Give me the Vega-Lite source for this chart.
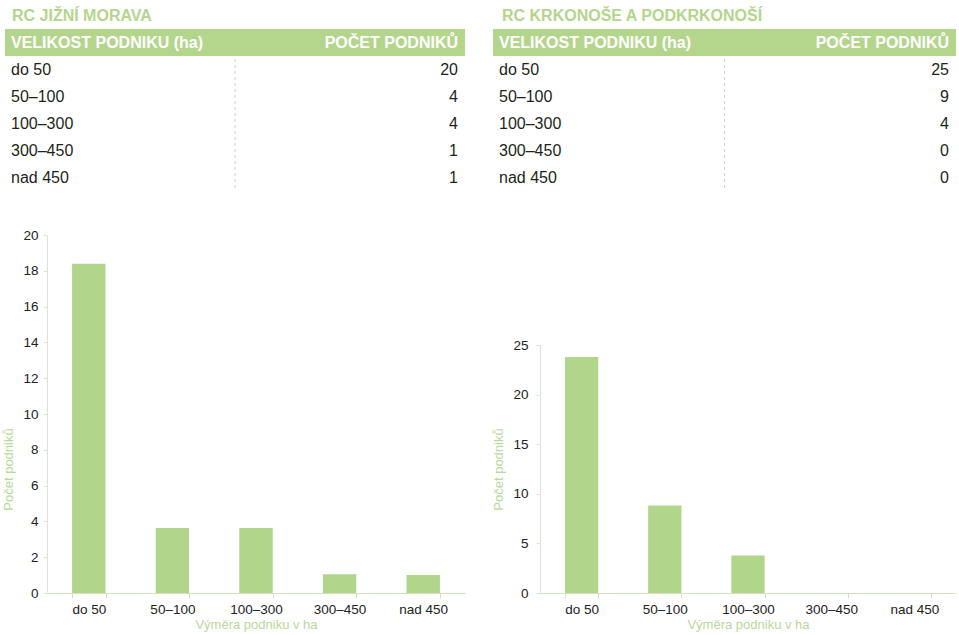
{
  "$schema": "https://vega.github.io/schema/vega-lite/v6.json",
  "padding": {"top": 7, "left": 2, "right": 4, "bottom": 0},
  "background": "white",
  "config": {
    "font": "Liberation Sans",
    "view": {"stroke": null},
    "title": {"font": "Liberation Sans", "fontSize": 16, "fontWeight": "bold", "color": "#b3d68c", "anchor": "start", "offset": 5},
    "axis": {
      "labelFont": "Liberation Sans", "labelFontSize": 13.5, "labelColor": "#222222",
      "titleFont": "Liberation Sans", "titleFontSize": 13, "titleFontWeight": "normal", "titleColor": "#b8d99a",
      "domainColor": "#e0e2d4", "tickColor": "#e0e2d4", "grid": false
    },
    "axisX": {"domainColor": "#d3e4bd", "tickColor": "#d3e4bd"}
  },
  "datasets": {
    "jm": [
      {"velikost": "do 50", "pocet": 20, "graf": 18.4},
      {"velikost": "50–100", "pocet": 4, "graf": 3.63},
      {"velikost": "100–300", "pocet": 4, "graf": 3.63},
      {"velikost": "300–450", "pocet": 1, "graf": 1.05},
      {"velikost": "nad 450", "pocet": 1, "graf": 1.0}
    ],
    "kr": [
      {"velikost": "do 50", "pocet": 25, "graf": 23.8},
      {"velikost": "50–100", "pocet": 9, "graf": 8.83},
      {"velikost": "100–300", "pocet": 4, "graf": 3.77},
      {"velikost": "300–450", "pocet": 0, "graf": 0},
      {"velikost": "nad 450", "pocet": 0, "graf": 0}
    ],
    "header": [
      {"velikost": "header", "left": "VELIKOST PODNIKU (ha)", "right": "POČET PODNIKŮ"}
    ],
    "blank": [{"velikost": "none"}]
  },
  "spacing": 27,
  "hconcat": [
    {
      "spacing": 36,
      "vconcat": [
        {
          "width": 418, "height": 162,
          "title": {"text": "RC JIŽNÍ MORAVA", "dx": 7},
          "layer": [
            {
              "data": {"name": "blank"},
              "mark": {"type": "rule", "strokeDash": [3, 3], "color": "#d2d2c4", "strokeWidth": 1},
              "encoding": {"x": {"datum": 0.5, "type": "quantitative", "scale": {"domain": [0, 1], "range": [-42, 418], "nice": false, "zero": false}, "axis": null}}
            },
            {
              "data": {"name": "header"},
              "mark": {"type": "rect", "color": "#b3d68c"},
              "encoding": {
                "x": {"datum": 0, "type": "quantitative"},
                "x2": {"datum": 1},
                "y": {"field": "velikost", "type": "ordinal", "scale": {"type": "band", "domain": ["header", "do 50", "50–100", "100–300", "300–450", "nad 450"], "paddingInner": 0, "paddingOuter": 0}, "axis": null}
              }
            },
            {
              "data": {"name": "header"},
              "mark": {"type": "text", "align": "left", "dx": 6, "color": "white", "fontWeight": "bold", "fontSize": 16},
              "encoding": {
                "x": {"datum": 0, "type": "quantitative"},
                "y": {"field": "velikost", "type": "ordinal"},
                "text": {"field": "left"}
              }
            },
            {
              "data": {"name": "header"},
              "mark": {"type": "text", "align": "right", "dx": -7, "color": "white", "fontWeight": "bold", "fontSize": 16},
              "encoding": {
                "x": {"datum": 1, "type": "quantitative"},
                "y": {"field": "velikost", "type": "ordinal"},
                "text": {"field": "right"}
              }
            },
            {
              "data": {"name": "jm"},
              "mark": {"type": "text", "align": "left", "dx": 6, "color": "#231f20", "fontSize": 16},
              "encoding": {
                "x": {"datum": 0, "type": "quantitative"},
                "y": {"field": "velikost", "type": "ordinal"},
                "text": {"field": "velikost"}
              }
            },
            {
              "data": {"name": "jm"},
              "mark": {"type": "text", "align": "right", "dx": -7, "color": "#231f20", "fontSize": 16},
              "encoding": {
                "x": {"datum": 1, "type": "quantitative"},
                "y": {"field": "velikost", "type": "ordinal"},
                "text": {"field": "pocet"}
              }
            }
          ]
        },
        {
          "width": 418, "height": 358,
          "data": {"name": "jm"},
          "mark": {"type": "bar", "color": "#b1d68b"},
          "encoding": {
            "x": {"field": "velikost", "type": "nominal", "sort": null,
              "scale": {"paddingInner": 0.6, "paddingOuter": 0.3},
              "axis": {"title": "Výměra podniku v ha", "labelAngle": 0, "tickBand": "extent", "tickSize": 5, "labelPadding": 4, "titlePadding": 3}},
            "y": {"field": "graf", "type": "quantitative",
              "scale": {"domain": [0, 20], "nice": false},
              "axis": {"title": "Počet podniků", "values": [0, 2, 4, 6, 8, 10, 12, 14, 16, 18, 20], "tickSize": 4, "labelPadding": 5, "titlePadding": 7, "titleY": 234}}
          }
        }
      ]
    },
    {
      "spacing": 146,
      "vconcat": [
        {
          "width": 416, "height": 162,
          "title": {"text": "RC KRKONOŠE A PODKRKONOŠÍ", "dx": 9},
          "layer": [
            {
              "data": {"name": "blank"},
              "mark": {"type": "rule", "strokeDash": [3, 3], "color": "#d2d2c4", "strokeWidth": 1},
              "encoding": {"x": {"datum": 0.5, "type": "quantitative", "scale": {"domain": [0, 1], "range": [-47, 416], "nice": false, "zero": false}, "axis": null}}
            },
            {
              "data": {"name": "header"},
              "mark": {"type": "rect", "color": "#b3d68c"},
              "encoding": {
                "x": {"datum": 0, "type": "quantitative"},
                "x2": {"datum": 1},
                "y": {"field": "velikost", "type": "ordinal", "scale": {"type": "band", "domain": ["header", "do 50", "50–100", "100–300", "300–450", "nad 450"], "paddingInner": 0, "paddingOuter": 0}, "axis": null}
              }
            },
            {
              "data": {"name": "header"},
              "mark": {"type": "text", "align": "left", "dx": 6, "color": "white", "fontWeight": "bold", "fontSize": 16},
              "encoding": {
                "x": {"datum": 0, "type": "quantitative"},
                "y": {"field": "velikost", "type": "ordinal"},
                "text": {"field": "left"}
              }
            },
            {
              "data": {"name": "header"},
              "mark": {"type": "text", "align": "right", "dx": -7, "color": "white", "fontWeight": "bold", "fontSize": 16},
              "encoding": {
                "x": {"datum": 1, "type": "quantitative"},
                "y": {"field": "velikost", "type": "ordinal"},
                "text": {"field": "right"}
              }
            },
            {
              "data": {"name": "kr"},
              "mark": {"type": "text", "align": "left", "dx": 6, "color": "#231f20", "fontSize": 16},
              "encoding": {
                "x": {"datum": 0, "type": "quantitative"},
                "y": {"field": "velikost", "type": "ordinal"},
                "text": {"field": "velikost"}
              }
            },
            {
              "data": {"name": "kr"},
              "mark": {"type": "text", "align": "right", "dx": -7, "color": "#231f20", "fontSize": 16},
              "encoding": {
                "x": {"datum": 1, "type": "quantitative"},
                "y": {"field": "velikost", "type": "ordinal"},
                "text": {"field": "pocet"}
              }
            }
          ]
        },
        {
          "width": 416, "height": 248,
          "data": {"name": "kr"},
          "mark": {"type": "bar", "color": "#b1d68b"},
          "encoding": {
            "x": {"field": "velikost", "type": "nominal", "sort": null,
              "scale": {"paddingInner": 0.6, "paddingOuter": 0.3},
              "axis": {"title": "Výměra podniku v ha", "labelAngle": 0, "tickBand": "extent", "tickSize": 5, "labelPadding": 4, "titlePadding": 3}},
            "y": {"field": "graf", "type": "quantitative",
              "scale": {"domain": [0, 25], "nice": false},
              "axis": {"title": "Počet podniků", "values": [0, 5, 10, 15, 20, 25], "tickSize": 4, "labelPadding": 8, "titlePadding": 7}}
          }
        }
      ]
    }
  ]
}
